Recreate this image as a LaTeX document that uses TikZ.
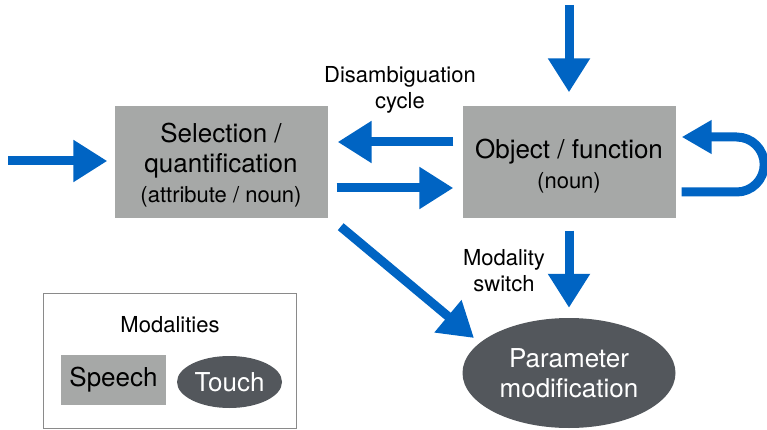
\documentclass[tikz,border=0pt]{standalone}
\usepackage{fontspec}
\setmainfont{TeX Gyre Heros}
\usetikzlibrary{arrows.meta,shapes.geometric}
\definecolor{flowblue}{HTML}{0064C3}
\definecolor{boxgray}{HTML}{A6A8A7}
\definecolor{ovaldark}{HTML}{53575C}
\definecolor{framegray}{HTML}{8A8A8A}
\def\boxw{213}
\def\boxh{111}

\begin{document}
\begin{tikzpicture}[x=1pt,y=-1pt,
    flow/.style={line width=9pt, draw=flowblue, -{Triangle[length=34pt,width=40pt]}},
    stage/.style={rectangle, fill=boxgray, minimum width=\boxw pt, minimum height=\boxh pt, inner sep=0pt},
    stagetext/.style={align=center, inner sep=0pt, font=\fontsize{26}{30}\selectfont},
    oval/.style={ellipse, fill=ovaldark, text=white, align=center, inner sep=0pt,
      font=\fontsize{26}{30}\selectfont},
    note/.style={align=center, font=\fontsize{22}{26}\selectfont}]
  \useasboundingbox (0,0) rectangle (767,430);

  % main stages
  \node[stage] (sel) at (221,162) {};
  \node[stagetext] (selText) at ([yshift=-3pt]sel.center) {Selection /\\quantification\\{\fontsize{22}{30}\selectfont (attribute / noun)}};
  \node[stage] (obj) at (569,162) {};
  \node[stagetext] (objText) at ([yshift=-4pt]obj.center) {Object / function\\{\fontsize{22}{31}\selectfont (noun)}};
  \node[oval, minimum width=213pt, minimum height=110pt] (param) at (569,373) {Parameter\\modification};

  \node[note] (cycle) at (400,90) {Disambiguation\\cycle};
  \node[note] (switch) at (504,271) {Modality\\switch};

  % legend
  \node[draw=framegray, line width=0.8pt, minimum width=253pt, minimum height=135pt] (legend) at (169.5,360.5) {};
  \node[note] (modal) at (170,325) {Modalities};
  \node[stage, minimum width=105pt, minimum height=50pt, font=\fontsize{26}{30}\selectfont] (speech) at (113.5,380) {Speech};
  \node[oval, minimum width=105pt, minimum height=52pt] (touch) at (229.5,382) {Touch};

  % arrows
  \coordinate (in) at (8,161);
  \coordinate (top) at (569,5);
  \draw[flow, shorten >=7pt] (in) -- (in -| sel.west);
  \draw[flow, shorten >=14pt] (top) -- (obj.north);
  \draw[flow, shorten <=9pt, shorten >=10pt] ([yshift=20pt]obj.west) -- ([yshift=20pt]sel.east);
  \draw[flow, shorten <=9pt, shorten >=9pt] ([yshift=-26pt]sel.east) -- ([yshift=-26pt]obj.west);
  \draw[flow, -{Triangle[length=30pt,width=32pt]}, shorten <=6pt, shorten >=6pt]
    ([yshift=-30pt]obj.east) -- ++(61,0) arc[start angle=-90, end angle=90, radius=27.5pt]
    -- ([yshift=25pt]obj.east);
  \draw[flow] ([shift={(13pt,-9pt)}]sel.south east) -- ([shift={(-95pt,35pt)}]param.center);
  \draw[flow, shorten <=13pt, shorten >=10pt] (obj.south) -- (param.north);
\end{tikzpicture}
\end{document}
